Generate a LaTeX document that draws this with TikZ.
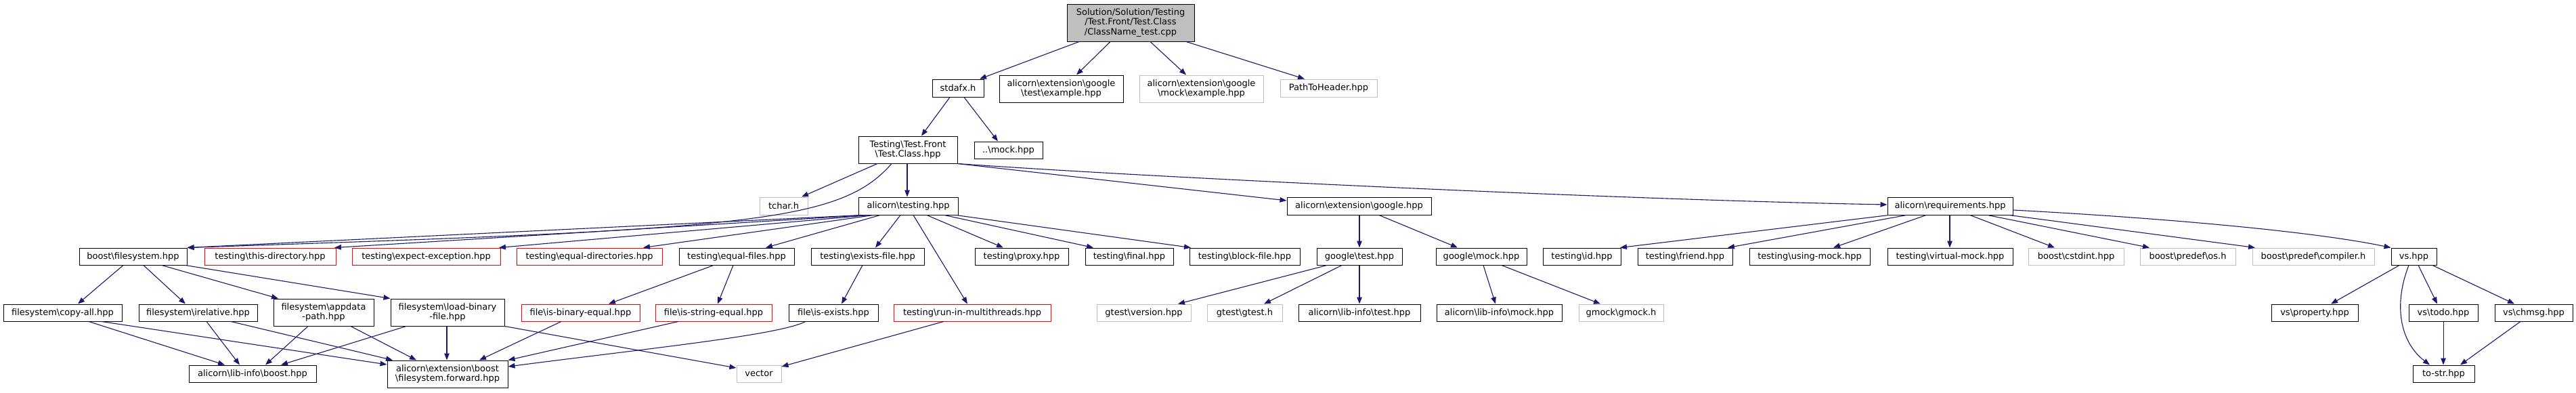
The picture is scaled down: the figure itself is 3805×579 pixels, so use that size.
\documentclass[tikz,border=0pt]{standalone}
\usepackage{fontspec}
\setmainfont{DejaVu Sans}
\usetikzlibrary{arrows.meta}
\definecolor{edgeblue}{HTML}{191970}
\definecolor{greyline}{HTML}{BFBFBF}
\newcommand{\bsl}{\textbackslash}
\newcommand{\dnode}[7]{\node[#6, minimum width={(#4-#2)*1pt}, minimum height={(#5-#3)*1pt}] (#1) at ({(#2+#4)/2},{(#3+#5)/2}) {#7};}
\tikzset{
  base/.style={rectangle, inner sep=0pt, align=center, font=\fontsize{13}{14.5}\selectfont, line width=1pt, fill=white},
  nb/.style={base, draw=black},
  gb/.style={base, draw=greyline},
  rb/.style={base, draw=red},
  rootbox/.style={base, draw=black, fill=greyline},
  edge/.style={draw=edgeblue, line width=1.1pt, -{Triangle[length=10pt,width=7.5pt]}},
}
\begin{document}
\begin{tikzpicture}[x=1pt,y=-1pt]
\fill[white] (0,0) rectangle (3805,579);
\useasboundingbox (0,0) rectangle (3805,579);
% rank 0-2
\dnode{root}{1576}{6}{1764}{61}{rootbox}{Solution/Solution/Testing\\/Test.Front/Test.Class\\/ClassName\_test.cpp}
\dnode{stdafx}{1377}{117}{1453}{143}{nb}{stdafx.h}
\dnode{gte}{1476}{111}{1659}{151}{nb}{alicorn\bsl extension\bsl google\\\bsl test\bsl example.hpp}
\dnode{gme}{1683}{111}{1866}{151}{gb}{alicorn\bsl extension\bsl google\\\bsl mock\bsl example.hpp}
\dnode{pth}{1891}{117}{2034}{143}{gb}{PathToHeader.hpp}
\dnode{tc}{1268}{201}{1414}{241}{nb}{Testing\bsl Test.Front\\\bsl Test.Class.hpp}
\dnode{mockh}{1439}{209}{1540}{234}{nb}{..\bsl mock.hpp}
% rank 3
\dnode{tchar}{1122}{291}{1193}{317}{gb}{tchar.h}
\dnode{testing}{1268}{291}{1415}{317}{nb}{alicorn\bsl testing.hpp}
\dnode{google}{1901}{291}{2114}{317}{nb}{alicorn\bsl extension\bsl google.hpp}
\dnode{req}{2788}{291}{2973}{317}{nb}{alicorn\bsl requirements.hpp}
% rank 4
\dnode{bfs}{117}{366}{276}{391}{nb}{boost\bsl filesystem.hpp}
\dnode{thisdir}{302}{366}{496}{391}{rb}{testing\bsl this-directory.hpp}
\dnode{expexc}{520}{366}{739}{391}{rb}{testing\bsl expect-exception.hpp}
\dnode{eqdir}{763}{366}{978}{391}{rb}{testing\bsl equal-directories.hpp}
\dnode{eqfiles}{1003}{366}{1173}{391}{nb}{testing\bsl equal-files.hpp}
\dnode{existsf}{1198}{366}{1365}{391}{nb}{testing\bsl exists-file.hpp}
\dnode{proxy}{1440}{366}{1578}{391}{nb}{testing\bsl proxy.hpp}
\dnode{final}{1603}{366}{1733}{391}{nb}{testing\bsl final.hpp}
\dnode{block}{1757}{366}{1920}{391}{nb}{testing\bsl block-file.hpp}
\dnode{gtest}{1945}{366}{2071}{391}{nb}{google\bsl test.hpp}
\dnode{gmock}{2121}{366}{2255}{391}{nb}{google\bsl mock.hpp}
\dnode{tid}{2279}{366}{2394}{391}{nb}{testing\bsl id.hpp}
\dnode{friend}{2419}{366}{2559}{391}{nb}{testing\bsl friend.hpp}
\dnode{using}{2584}{366}{2762}{391}{nb}{testing\bsl using-mock.hpp}
\dnode{virtual}{2788}{366}{2973}{391}{nb}{testing\bsl virtual-mock.hpp}
\dnode{cstdint}{2996}{366}{3137}{391}{gb}{boost\bsl cstdint.hpp}
\dnode{os}{3161}{366}{3302}{391}{gb}{boost\bsl predef\bsl os.h}
\dnode{compiler}{3327}{366}{3507}{391}{gb}{boost\bsl predef\bsl compiler.h}
\dnode{vs}{3532}{366}{3599}{391}{nb}{vs.hpp}
% rank 5
\dnode{copyall}{5}{449}{180}{474}{nb}{filesystem\bsl copy-all.hpp}
\dnode{relative}{205}{449}{380}{474}{nb}{filesystem\bsl irelative.hpp}
\dnode{appdata}{404}{441}{552}{481}{nb}{filesystem\bsl appdata\\-path.hpp}
\dnode{loadbin}{577}{441}{745}{481}{nb}{filesystem\bsl load-binary\\-file.hpp}
\dnode{isbin}{770}{449}{945}{474}{rb}{file\bsl is-binary-equal.hpp}
\dnode{isstr}{968}{449}{1140}{474}{rb}{file\bsl is-string-equal.hpp}
\dnode{isexists}{1165}{449}{1297}{474}{nb}{file\bsl is-exists.hpp}
\dnode{run}{1320}{449}{1552}{474}{rb}{testing\bsl run-in-multithreads.hpp}
\dnode{gver}{1620}{449}{1759}{474}{gb}{gtest\bsl version.hpp}
\dnode{ggtest}{1783}{449}{1894}{474}{gb}{gtest\bsl gtest.h}
\dnode{litest}{1918}{449}{2098}{474}{nb}{alicorn\bsl lib-info\bsl test.hpp}
\dnode{limock}{2122}{449}{2307}{474}{nb}{alicorn\bsl lib-info\bsl mock.hpp}
\dnode{gmockh}{2332}{449}{2457}{474}{gb}{gmock\bsl gmock.h}
\dnode{vsprop}{3355}{449}{3483}{474}{nb}{vs\bsl property.hpp}
\dnode{vstodo}{3558}{449}{3660}{474}{nb}{vs\bsl todo.hpp}
\dnode{vschmsg}{3685}{449}{3800}{474}{nb}{vs\bsl chmsg.hpp}
% rank 6
\dnode{liboost}{279}{539}{467}{564}{nb}{alicorn\bsl lib-info\bsl boost.hpp}
\dnode{fwd}{572}{532}{750}{572}{nb}{alicorn\bsl extension\bsl boost\\\bsl filesystem.forward.hpp}
\dnode{vector}{1088}{539}{1154}{564}{gb}{vector}
\dnode{tostr}{3564}{539}{3655}{564}{nb}{to-str.hpp}
% edges
\draw[edge] (root.south -| 1594,0) -- (stdafx.north -| 1447,0);
\draw[edge] (root.south -| 1640,0) -- (gte.north -| 1590,0);
\draw[edge] (root.south -| 1699,0) -- (gme.north -| 1752,0);
\draw[edge] (root.south -| 1752,0) -- (pth.north -| 1927,0);
\draw[edge] (stdafx.south -| 1403,0) -- (tc.north -| 1361,0);
\draw[edge] (stdafx.south -| 1424,0) -- (mockh.north -| 1474,0);
\draw[edge] (tc.south -| 1296,0) -- (tchar.north -| 1184,0);
\draw[edge] (tc.south -| 1340,0) -- (testing.north -| 1340,0);
\draw[edge] (tc.south -| 1317,0) .. controls (1240,330) and (1100,338) .. (bfs.north east);
\draw[edge] (tc.south east) -- (google.west |- 0,296);
\draw[edge] (tc.south east) .. controls (1700,262) and (2400,295) .. (req.west |- 0,302);
\draw[edge] (testing.south -| 1272,0) -- (bfs.north east);
\draw[edge] (testing.south -| 1278,0) -- (thisdir.north -| 494,0);
\draw[edge] (testing.south -| 1284,0) -- (expexc.north -| 737,0);
\draw[edge] (testing.south -| 1290,0) -- (eqdir.north -| 950,0);
\draw[edge] (testing.south -| 1300,0) -- (eqfiles.north -| 1131,0);
\draw[edge] (testing.south -| 1330,0) -- (existsf.north -| 1293,0);
\draw[edge] (testing.south -| 1349,0) -- (run.north -| 1429,0);
\draw[edge] (testing.south -| 1369,0) -- (proxy.north -| 1482,0);
\draw[edge] (testing.south -| 1395,0) -- (final.north -| 1615,0);
\draw[edge] (testing.south -| 1412,0) -- (block.north -| 1759,0);
\draw[edge] (google.south -| 2008,0) -- (gtest.north -| 2008,0);
\draw[edge] (google.south -| 2037,0) -- (gmock.north -| 2153,0);
\draw[edge] (gtest.south -| 1960,0) -- (gver.north -| 1740,0);
\draw[edge] (gtest.south -| 1982,0) -- (ggtest.north -| 1867,0);
\draw[edge] (gtest.south -| 2008,0) -- (litest.north -| 2008,0);
\draw[edge] (gmock.south -| 2191,0) -- (limock.north -| 2209,0);
\draw[edge] (gmock.south -| 2218,0) -- (gmockh.north -| 2364,0);
\draw[edge] (req.south -| 2790,0) -- (tid.north -| 2393,0);
\draw[edge] (req.south -| 2816,0) -- (friend.north -| 2552,0);
\draw[edge] (req.south -| 2845,0) -- (using.north -| 2708,0);
\draw[edge] (req.south -| 2880,0) -- (virtual.north -| 2880,0);
\draw[edge] (req.south -| 2910,0) -- (cstdint.north -| 3035,0);
\draw[edge] (req.south -| 2936,0) -- (os.north -| 3175,0);
\draw[edge] (req.south -| 2968,0) -- (compiler.north -| 3331,0);
\draw[edge] (req.east |- 0,310) .. controls (3200,322) and (3420,342) .. (vs.north west);
\draw[edge] (vs.south -| 3544,0) -- (vsprop.north -| 3443,0);
\draw[edge] (vs.south -| 3572,0) -- (vstodo.north -| 3600,0);
\draw[edge] (vs.south -| 3593,0) -- (vschmsg.north -| 3714,0);
\draw[edge] (vs.south -| 3558,0) .. controls (3535,450) and (3545,505) .. (tostr.north -| 3589,0);
\draw[edge] (vstodo.south -| 3609,0) -- (tostr.north -| 3609,0);
\draw[edge] (vschmsg.south -| 3723,0) -- (tostr.north -| 3634,0);
\draw[edge] (bfs.south -| 182,0) -- (copyall.north -| 115,0);
\draw[edge] (bfs.south -| 212,0) -- (relative.north -| 274,0);
\draw[edge] (bfs.south -| 239,0) -- (appdata.north -| 411,0);
\draw[edge] (bfs.south -| 274,0) -- (loadbin.north west);
\draw[edge] (copyall.south -| 131,0) -- (liboost.north -| 332,0);
\draw[edge] (copyall.south -| 150,0) -- (fwd.west |- 0,538);
\draw[edge] (relative.south -| 305,0) -- (liboost.north -| 354,0);
\draw[edge] (relative.south -| 341,0) -- (fwd.north -| 580,0);
\draw[edge] (appdata.south -| 455,0) -- (liboost.north -| 392,0);
\draw[edge] (appdata.south -| 518,0) -- (fwd.north -| 615,0);
\draw[edge] (loadbin.south -| 600,0) -- (liboost.north -| 415,0);
\draw[edge] (loadbin.south -| 660,0) -- (fwd.north -| 660,0);
\draw[edge] (loadbin.south east) -- (vector.west |- 0,543);
\draw[edge] (isbin.south -| 829,0) -- (fwd.north -| 708,0);
\draw[edge] (isstr.south -| 1002,0) -- (fwd.north east);
\draw[edge] (isexists.south -| 1190,0) .. controls (1150,495) and (950,515) .. (fwd.east |- 0,541);
\draw[edge] (run.south -| 1394,0) -- (vector.east |- 0,541);
\draw[edge] (eqfiles.south -| 1054,0) -- (isbin.north -| 899,0);
\draw[edge] (eqfiles.south -| 1083,0) -- (isstr.north -| 1060,0);
\draw[edge] (existsf.south -| 1274,0) -- (isexists.north -| 1243,0);
\end{tikzpicture}
\end{document}
